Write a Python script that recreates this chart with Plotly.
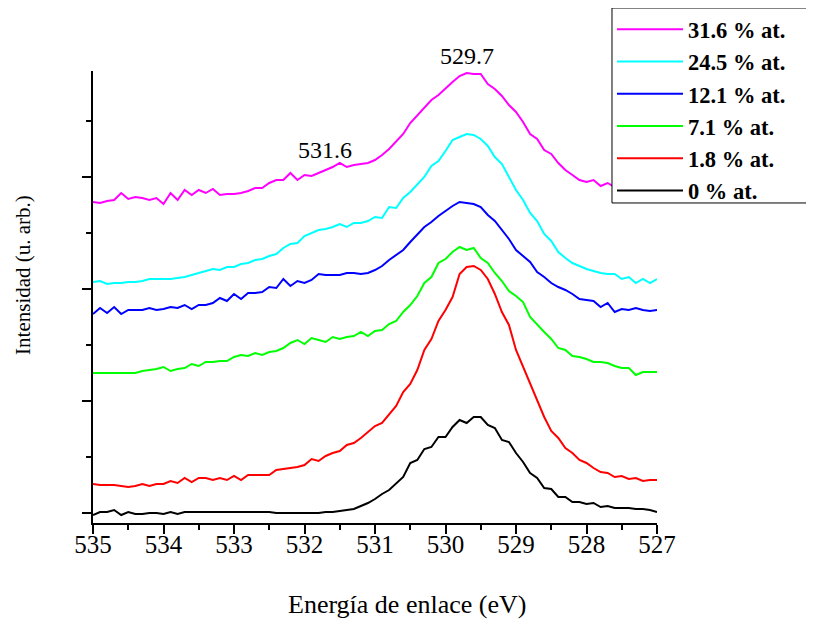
import numpy as np
import plotly.graph_objects as go

# Binding energy grid (eV), 0.1 eV steps from 535 down to 527
energy = np.round(np.linspace(535, 527, 81), 1)

labels = ["31.6 % at.", "24.5 % at.", "12.1 % at.", "7.1 % at.", "1.8 % at.", "0 % at."]
colors = ["#FF00FF", "#00FFFF", "#0000FF", "#00FF00", "#FF0000", "#000000"]

s_31_6 = [311,310,312,313,320,314,316,315,313,315, 309,320,313,323,318,323,320,324,318,319,
          319,320,322,325,325,330,333,333,340,333, 338,337,340,343,346,350,346,348,349,350,
          353,358,364,371,379,390,398,406,413,418, 425,431,437,440,439,439,429,424,417,408,
          401,391,379,374,363,359,350,343,338,333, 331,333,327,330,326,325,327,324,325,323,
          324]
s_24_5 = [231,232,229,230,230,231,231,232,234,234, 234,234,235,236,238,240,242,244,243,246,
          246,249,250,253,254,257,259,265,269,270, 277,280,283,284,286,289,286,290,290,292,
          296,295,306,305,315,321,328,336,347,352, 362,373,376,379,378,374,367,356,349,336,
          323,313,300,292,279,272,261,255,250,247, 244,242,240,239,239,234,236,230,234,230,
          234]
s_12_1 = [199,205,200,206,199,203,203,203,205,203, 204,206,205,208,204,208,208,210,215,212,
          219,214,220,220,221,226,225,234,227,232, 230,233,239,238,238,238,240,240,239,240,
          243,247,253,258,263,271,279,286,291,297, 302,307,311,310,309,306,298,292,283,274,
          263,257,251,241,236,230,226,223,219,214, 213,212,206,210,201,204,203,205,203,202,
          203]
s_7_1 = [140,140,140,140,140,140,140,142,143,144, 146,142,144,145,149,147,151,151,152,152,
         156,158,157,160,158,161,162,165,170,173, 169,175,173,171,176,174,176,177,181,177,
         182,183,189,192,201,208,217,230,236,250, 254,261,266,263,265,255,250,240,232,222,
         217,211,196,188,181,174,165,163,157,156, 154,151,151,150,147,145,145,138,141,141,
         141]
s_1_8 = [29,28,28,28,27,26,27,29,27,29, 29,32,30,35,31,35,35,33,35,33,
         37,33,38,38,38,38,43,44,45,46, 48,54,52,57,60,62,68,70,75,81,
         87,90,99,107,121,129,143,163,174,192, 203,216,239,246,247,243,234,219,201,188,
         163,146,130,113,96,82,75,65,60,53, 50,45,41,40,36,37,34,35,32,33,
         33]
s_0 = [-2,1,1,3,-2,1,-1,-1,0,0, -1,1,-1,1,1,1,1,1,1,1,
       1,1,1,1,1,1,0,0,0,0, 0,0,0,1,1,2,3,4,7,10,
       14,19,23,30,36,50,53,64,66,76, 76,86,93,90,96,96,88,85,73,71,
       60,51,40,35,25,24,16,16,11,11, 9,10,6,7,5,5,5,4,4,3,
       1]

series = [s_31_6, s_24_5, s_12_1, s_7_1, s_1_8, s_0]

peak_labels = ["529.7", "531.6"]
peak_pos = [529.7, 531.6]

FONT = "Liberation Serif, Times New Roman, serif"

fig = go.Figure()
for lab, col, ys in zip(labels, colors, series):
    fig.add_trace(go.Scatter(x=energy, y=ys, mode="lines", name=lab,
                             line=dict(color=col, width=2)))

fig.add_annotation(x=peak_pos[0], y=1.033, xref="x", yref="paper", text=peak_labels[0],
                   xanchor="center", yanchor="middle",
                   showarrow=False, font=dict(family=FONT, size=24, color="black"))
fig.add_annotation(x=peak_pos[1], y=363, xref="x", yref="y", text=peak_labels[1],
                   xanchor="center", yanchor="middle",
                   showarrow=False, xshift=-8, font=dict(family=FONT, size=24, color="black"))

fig.add_annotation(x=-0.124, y=0.549, xref="paper", yref="paper", text="Intensidad (u. arb.)",
                   xanchor="center", yanchor="middle",
                   textangle=-90, showarrow=False, font=dict(family=FONT, size=21, color="black"))
fig.add_annotation(x=0.557, y=-0.181, xref="paper", yref="paper", text="Energía de enlace (eV)",
                   xanchor="center", yanchor="middle",
                   showarrow=False, font=dict(family=FONT, size=26, color="black"))

# legend frame (white box with black border, drawn over the plot, under the legend entries)
fig.add_shape(type="rect", xref="paper", yref="paper",
              x0=0.9202, x1=1.2766, y0=0.708, y1=1.1394,
              line=dict(color="black", width=1), fillcolor="white", layer="above")

fig.update_layout(
    width=806, height=617,
    margin=dict(l=85, r=157, t=63, b=102, autoexpand=False),
    paper_bgcolor="white", plot_bgcolor="white",
    font=dict(family=FONT, color="black"),
    showlegend=True,
    legend=dict(x=0.9202, y=1.139, xanchor="left", yanchor="top",
                bgcolor="rgba(0,0,0,0)", borderwidth=0,
                font=dict(family=FONT, size=22.5, color="black", weight="bold"),
                itemwidth=66),
    xaxis=dict(range=[535, 527], tick0=527, dtick=1, ticks="outside", ticklen=9, tickwidth=2,
               tickcolor="black", showline=True, linewidth=2, linecolor="black",
               showgrid=False, zeroline=False, ticklabelstandoff=-11,
               tickfont=dict(family=FONT, size=25, color="black"),
               minor=dict(dtick=0.5, ticks="outside", ticklen=5, tickwidth=2,
                          tickcolor="black", showgrid=False)),
    yaxis=dict(range=[-10, 442], tick0=0, dtick=112, ticks="outside", ticklen=9, tickwidth=2,
               tickcolor="black", showline=True, linewidth=2, linecolor="black",
               showgrid=False, zeroline=False, showticklabels=False,
               minor=dict(dtick=56, ticks="outside", ticklen=5, tickwidth=2,
                          tickcolor="black", showgrid=False)),
)

fig.write_html("out.html")
